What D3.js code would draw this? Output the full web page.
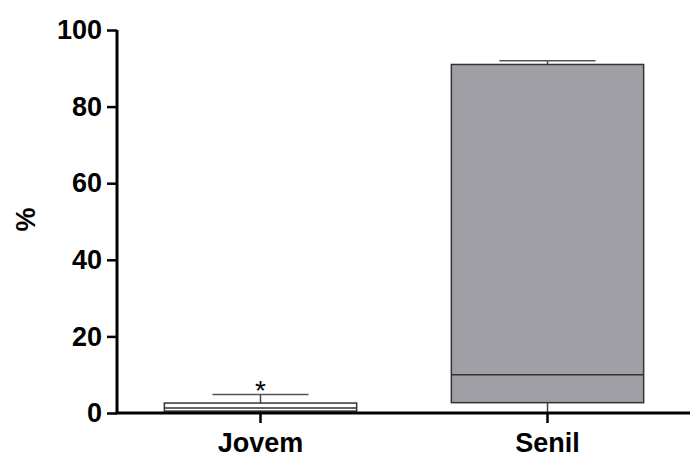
<!DOCTYPE html>
<html>
<head>
<meta charset="utf-8">
<script src="https://cdn.jsdelivr.net/npm/d3@7"></script>
<style>
  body { margin: 0; background: #fff; }
  text { font-family: "Liberation Sans", Arial, sans-serif; font-weight: bold; }
</style>
</head>
<body>
<div id="chart"></div>
<script>
// data
var groups   = ["Jovem", "Senil"];
var whiskLo  = [0, 0];
var q1       = [0.5, 2.7];
var medians  = [1.3, 10];
var q3       = [2.6, 91];
var whiskHi  = [4.8, 92];
var fills    = ["#ffffff", "#a09fa5"];
var marks    = ["*", ""];
var yTicks   = [0, 20, 40, 60, 80, 100];

var margin = {top: 30, right: 0, bottom: 45, left: 117},
    width = 690 - margin.left - margin.right,
    height = 458 - margin.top - margin.bottom;

var svg = d3.select("#chart")
            .append("svg")
            .attr("width", width + margin.left + margin.right)
            .attr("height", height + margin.top + margin.bottom)
            .append("g")
            .attr("transform", "translate(" + margin.left + "," + margin.top + ")");

var x = d3.scaleBand()
          .domain(groups)
          .range([0, 574]);

var y = d3.scaleLinear()
          .domain([0, 100])
          .range([383, 0]);

var boxW = x.bandwidth() * 0.67,
    capW = boxW / 2;

var data = groups.map(function(g, i) {
  return {name: g, lo: whiskLo[i], q1: q1[i], med: medians[i], q3: q3[i], hi: whiskHi[i], fill: fills[i], mark: marks[i]};
});

var box = svg.selectAll(".box")
             .data(data)
             .enter().append("g")
             .attr("class", "box")
             .attr("transform", function(d) { return "translate(" + (x(d.name) + x.bandwidth() / 2) + ",0)"; });

// whiskers
box.append("line")
   .attr("x1", 0).attr("x2", 0)
   .attr("y1", function(d) { return y(d.q3); })
   .attr("y2", function(d) { return y(d.hi); })
   .attr("stroke", "#444").attr("stroke-width", 1.5);
box.append("line")
   .attr("x1", 0).attr("x2", 0)
   .attr("y1", function(d) { return y(d.q1); })
   .attr("y2", function(d) { return y(d.lo); })
   .attr("stroke", "#444").attr("stroke-width", 1.5);
box.append("line")
   .attr("x1", -capW / 2).attr("x2", capW / 2)
   .attr("y1", function(d) { return y(d.hi); })
   .attr("y2", function(d) { return y(d.hi); })
   .attr("stroke", "#555").attr("stroke-width", 1.5);

box.append("rect")
   .attr("x", -boxW / 2)
   .attr("width", boxW)
   .attr("y", function(d) { return y(d.q3); })
   .attr("height", function(d) { return y(d.q1) - y(d.q3); })
   .attr("fill", function(d) { return d.fill; })
   .attr("stroke", "#333")
   .attr("stroke-width", 1.5);

box.append("line")
   .attr("x1", -boxW / 2).attr("x2", boxW / 2)
   .attr("y1", function(d) { return y(d.med); })
   .attr("y2", function(d) { return y(d.med); })
   .attr("stroke", "#333").attr("stroke-width", 1.5);

box.append("text")
   .attr("text-anchor", "middle")
   .attr("y", function(d) { return y(d.hi) + 5; })
   .style("font-size", "28px")
   .style("font-weight", "normal")
   .text(function(d) { return d.mark; });

// axes
var yAxis = svg.append("g")
   .call(d3.axisLeft(y).tickValues(yTicks).tickSize(10).tickPadding(5));
yAxis.select(".domain").attr("stroke-width", 3).attr("d", "M0,0V383");
yAxis.selectAll(".tick line").attr("stroke-width", 2.5);
yAxis.selectAll("text").style("font-size", "27px").attr("fill", "#000");

var xAxis = svg.append("g")
   .attr("transform", "translate(0," + height + ")")
   .call(d3.axisBottom(x).tickSize(10).tickSizeOuter(0).tickPadding(10));
xAxis.select(".domain").attr("stroke-width", 3).attr("d", "M-1.5,0H574");
xAxis.selectAll(".tick line").attr("stroke-width", 2.5);
xAxis.selectAll("text").style("font-size", "27px").attr("fill", "#000");

// Label
svg.append("text")
   .attr("text-anchor", "middle")
   .style("font-size", "27px")
   .attr("transform", "translate(" + (-82) + "," + (height / 2 - 2) + ")rotate(-90)")
   .text("%");
</script>
</body>
</html>
